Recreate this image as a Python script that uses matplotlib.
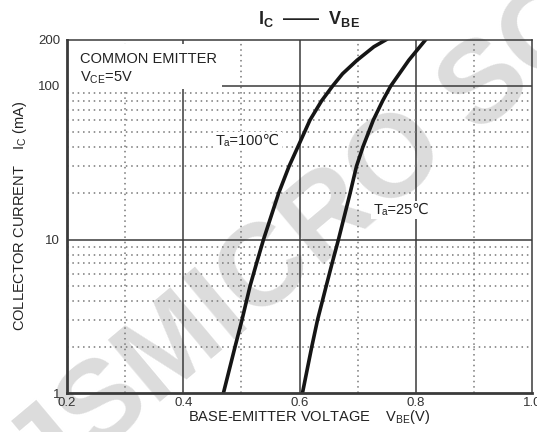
import numpy as np
import matplotlib.pyplot as plt
from matplotlib.patches import Rectangle

plt.rcParams['font.family'] = ['Liberation Sans', 'DejaVu Sans']
plt.rcParams['mathtext.fontset'] = 'custom'
plt.rcParams['mathtext.rm'] = 'Liberation Sans'
plt.rcParams['mathtext.bf'] = 'Liberation Sans:bold'

# collector current (mA) and base-emitter voltage (V)
ic_100 = [1, 2, 3, 5, 7, 10, 20, 30, 40, 60, 80, 100, 120, 147, 180, 200]
vbe_100 = [0.469, 0.489, 0.501, 0.515, 0.526, 0.538, 0.564, 0.582, 0.597,
           0.618, 0.638, 0.657, 0.674, 0.699, 0.728, 0.749]
ic_25 = [1, 2, 3, 5, 7, 10, 20, 30, 40, 60, 80, 100, 147, 200]
vbe_25 = [0.605, 0.621, 0.631, 0.646, 0.656, 0.667, 0.687, 0.698, 0.709,
          0.727, 0.743, 0.757, 0.788, 0.817]

xticks = [0.2, 0.4, 0.6, 0.8, 1.0]
xtick_labels = ['0.2', '0.4', '0.6', '0.8', '1.0']
yticks = [1, 10, 100, 200]
ytick_labels = ['1', '10', '100', '200']

fig = plt.figure(figsize=(5.37, 4.32), dpi=100)
ax = fig.add_axes([67 / 537, 38.7 / 432, 465 / 537, 353.6 / 432])
ax.set_yscale('log')
ax.set_xlim(0.2, 1.0)
ax.set_ylim(1, 200)

# watermark, under the grid
ax.text(0.565, 0.44, 'JSMICRO SC', transform=fig.transFigure, fontsize=84,
        fontweight='bold', color='#dcdcdc', rotation=40, ha='center', va='center',
        zorder=0.5, clip_on=False)

# grid
solid = dict(color='#3a3a3a', lw=1.1, zorder=2)
dotted = dict(color='#777777', lw=1.1, ls=(0, (1, 2.5)), zorder=2)
for v in [0.4, 0.6, 0.8]:
    ax.axvline(v, **solid)
for v in [0.3, 0.5, 0.7, 0.9]:
    ax.axvline(v, **dotted)
for v in [10, 100]:
    ax.axhline(v, **solid)
for d in [1, 10]:
    for m in range(2, 10):
        ax.axhline(m * d, **dotted)

# white area behind the condition text
ax.add_patch(Rectangle((0.2, 95), 0.267, 92, facecolor='white', edgecolor='none', zorder=3))

ax.plot(vbe_100, ic_100, color='#151515', lw=2.6, zorder=5)
ax.plot(vbe_25, ic_25, color='#151515', lw=2.6, zorder=5)

ax.text(0.223, 150, 'COMMON EMITTER', fontsize=10.5, color='#222222', zorder=6, va='center')
ax.text(0.223, 113, r'V$_{\rm CE}$=5V', fontsize=10.5, color='#222222', zorder=6, va='center')
ax.text(0.456, 44, 'Tₐ=100℃', fontsize=10.5, color='#222222', zorder=4, va='center',
        bbox=dict(facecolor='white', edgecolor='none', pad=1.5))
ax.text(0.727, 15.5, 'Tₐ=25℃', fontsize=10.5, color='#222222', zorder=4, va='center',
        bbox=dict(facecolor='white', edgecolor='none', pad=1.5))

ax.set_xticks(xticks)
ax.set_xticklabels(xtick_labels)
ax.set_yticks(yticks)
ax.set_yticklabels(ytick_labels)
ax.yaxis.set_minor_locator(plt.NullLocator())
ax.tick_params(length=0, labelsize=9.5, colors='#333333')
ax.tick_params(axis='x', pad=3)
ax.tick_params(axis='y', pad=5)
for s in ax.spines.values():
    s.set_color('#3a3a3a')
    s.set_linewidth(1.1)
    s.set_zorder(6)
ax.spines['left'].set_linewidth(2)
ax.spines['bottom'].set_linewidth(2)

fig.text(0.575, 0.034, r'BASE-EMITTER VOLTAGE    V$_{\rm BE}$(V)', fontsize=10.5,
         color='#222222', ha='center', va='center')
fig.text(0.037, 0.5, r'COLLECTOR CURRENT    I$_{\rm C}$ (mA)', fontsize=10.5,
         color='#222222', ha='center', va='center', rotation=90)
fig.text(0.575, 0.955, r'$\mathbf{I_{C}}$  ——  $\mathbf{V_{BE}}$', fontsize=13,
         color='#222222', ha='center', va='center', fontweight='bold')

fig.savefig('out.png', dpi=100)
